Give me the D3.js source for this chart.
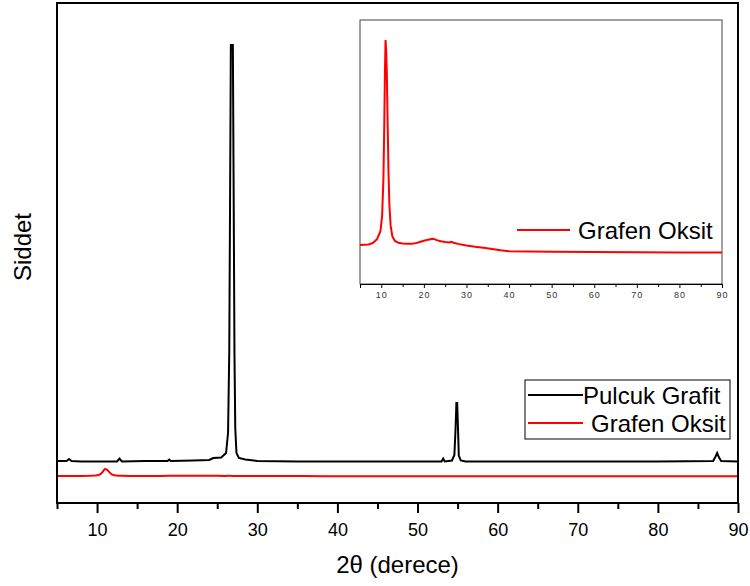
<!DOCTYPE html>
<html lang="tr">

<head>
    <meta charset="UTF-8">
    <title>XRD - Pulcuk Grafit / Grafen Oksit</title>
    <script src="https://cdn.jsdelivr.net/npm/d3@7"></script>
    <style>
        body { margin: 0; background: #fff; }
        svg { display: block; font-family: Arial, "Liberation Sans", sans-serif; }
    </style>
</head>

<body>
    <svg id="chart" width="750" height="586"></svg>

    <script>
        // Pulcuk Grafit (2θ, siddet)
        const grafitTheta = [5, 6.2, 6.5, 6.8, 8, 10, 12.5, 12.8, 13.1, 16, 18.8, 19, 19.2, 22, 24, 24.5, 25.5,
            26.1, 26.35, 26.5, 26.6, 26.7, 26.8, 26.95, 27.05, 27.15, 27.25, 27.4, 27.7, 28.5, 30, 35, 40, 45, 50,
            53, 53.2, 53.4, 54.3, 54.6, 54.75, 54.85, 54.95, 55.05, 55.15, 55.4, 56, 60, 70, 80,
            86.9, 87.2, 87.4, 87.6, 87.9, 90]
        const grafitInt = [8.4, 8.4, 8.8, 8.4, 8.3, 8.3, 8.3, 8.9, 8.3, 8.4, 8.4, 8.7, 8.4, 8.5, 8.6, 9.0, 9.1,
            10.0, 14, 30, 60, 91.6, 91.6, 91.6, 62, 30, 15, 10, 9.0, 8.7, 8.4, 8.3, 8.3, 8.3, 8.3,
            8.3, 8.9, 8.3, 8.5, 9.6, 15, 20, 20, 15, 9.5, 8.5, 8.3, 8.3, 8.3, 8.3,
            8.4, 9.3, 10, 9.2, 8.4, 8.3]

        // Grafen Oksit (2θ, siddet)
        const goTheta = [5, 6, 7, 8, 9, 9.8, 10.2, 10.5, 10.7, 10.85, 11.0, 11.15, 11.3, 11.5, 11.7, 11.9, 12.2,
            12.6, 13.2, 14, 15, 16, 17, 18, 19, 20, 21, 22, 22.5, 23, 24, 25, 26, 26.5, 27, 28, 30, 32, 34, 36, 38,
            40, 45, 50, 60, 70, 80, 90]
        const goInt = [14.8, 14.9, 15.0, 15.5, 17, 20, 26, 40, 60, 80, 92.4, 88, 80, 60, 42, 30, 22,
            18, 16.3, 15.6, 15.3, 15.2, 15.2, 15.4, 15.9, 16.4, 16.8, 17.1, 17.0, 16.6, 16.2, 15.9, 15.7, 16.0, 15.6, 15.2, 14.6, 14.1, 13.7, 13.3, 12.8,
            12.4, 12.3, 12.2, 12.1, 12.0, 11.9, 11.9]

        const xTicks = [10, 20, 30, 40, 50, 60, 70, 80, 90]
        const xMinorTicks = [5, 15, 25, 35, 45, 55, 65, 75, 85]
        const seriesNames = ["Pulcuk Grafit", "Grafen Oksit"]
        const seriesColors = ["#000000", "#ff0000"]

        const grafit = grafitTheta.map((t, i) => ({ x: t, y: grafitInt[i] }))
        const go = goTheta.map((t, i) => ({ x: t, y: goInt[i] }))

        const svg = d3.select('#chart')

        // main plot
        const x = d3.scaleLinear().domain([5, 90]).range([57, 738])
        const y = d3.scaleLinear().domain([0, 100]).range([503, 3])
        // GO trace is offset and shrunk under the graphite trace
        const yGo = d3.scaleLinear().domain([0, 100]).range([477.3, 468.3])

        svg.append('path')
            .datum(go)
            .attr('fill', 'none')
            .attr('stroke', seriesColors[1])
            .attr('stroke-width', 2)
            .attr('d', d3.line().x(d => x(d.x)).y(d => yGo(d.y)))

        svg.append('path')
            .datum(grafit)
            .attr('fill', 'none')
            .attr('stroke', seriesColors[0])
            .attr('stroke-width', 2)
            .attr('d', d3.line().x(d => x(d.x)).y(d => y(d.y)))

        // x axis: major + minor ticks
        const axisMajor = svg.append('g')
            .attr('transform', 'translate(0,503)')
            .call(d3.axisBottom(x).tickValues(xTicks).tickSize(10).tickPadding(10))
        axisMajor.select('.domain').remove()
        axisMajor.selectAll('line').attr('stroke-width', 2)
        axisMajor.selectAll('text').attr('font-size', 18).attr('fill', '#000').attr('font-family', null)

        const axisMinor = svg.append('g')
            .attr('transform', 'translate(0,503)')
            .call(d3.axisBottom(x).tickValues(xMinorTicks).tickSize(6).tickFormat(''))
        axisMinor.select('.domain').remove()
        axisMinor.selectAll('line').attr('stroke-width', 2)

        svg.append('rect')
            .attr('x', 57).attr('y', 3)
            .attr('width', 681).attr('height', 500)
            .attr('fill', 'none')
            .attr('stroke', '#000')
            .attr('stroke-width', 2)

        svg.append('text')
            .attr('x', (57 + 738) / 2)
            .attr('y', 573)
            .attr('text-anchor', 'middle')
            .attr('font-size', 24)
            .text('2θ (derece)')

        svg.append('text')
            .attr('transform', 'translate(31,247) rotate(-90)')
            .attr('text-anchor', 'middle')
            .attr('font-size', 24)
            .text('Siddet')

        // main legend
        const legend = svg.append('g')
        legend.append('rect')
            .attr('x', 525).attr('y', 380)
            .attr('width', 205).attr('height', 59)
            .attr('fill', '#fff')
            .attr('stroke', '#000')
            .attr('stroke-width', 1)
        const legendRows = [
            { name: seriesNames[0], color: seriesColors[0], ly: 395, tx: 583 },
            { name: seriesNames[1], color: seriesColors[1], ly: 423, tx: 591 },
        ]
        legendRows.forEach(r => {
            legend.append('line')
                .attr('x1', 528).attr('x2', 583)
                .attr('y1', r.ly).attr('y2', r.ly)
                .attr('stroke', r.color)
                .attr('stroke-width', 2)
            legend.append('text')
                .attr('x', r.tx).attr('y', r.ly + 8.5)
                .attr('font-size', 24)
                .text(r.name)
        })

        // inset (GO on its own scale)
        const xi = d3.scaleLinear().domain([5, 90]).range([360, 722])
        const yi = d3.scaleLinear().domain([0, 100]).range([284, 20])

        svg.append('rect')
            .attr('x', 360).attr('y', 20)
            .attr('width', 362).attr('height', 264)
            .attr('fill', '#fff')
            .attr('stroke', '#444')
            .attr('stroke-width', 1)

        svg.append('path')
            .datum(go)
            .attr('fill', 'none')
            .attr('stroke', seriesColors[1])
            .attr('stroke-width', 2)
            .attr('d', d3.line().x(d => xi(d.x)).y(d => yi(d.y)))

        const insetMajor = svg.append('g')
            .attr('transform', 'translate(0,284)')
            .call(d3.axisBottom(xi).tickValues(xTicks).tickSize(4).tickPadding(4))
        insetMajor.select('.domain').attr('stroke', '#000')
        insetMajor.selectAll('text')
            .attr('font-size', 9)
            .attr('letter-spacing', 1)
            .attr('fill', '#333')
            .attr('font-family', null)

        const insetMinor = svg.append('g')
            .attr('transform', 'translate(0,284)')
            .call(d3.axisBottom(xi).tickValues(xMinorTicks).tickSize(3).tickFormat(''))
        insetMinor.select('.domain').remove()

        svg.append('line')
            .attr('x1', 517).attr('x2', 570)
            .attr('y1', 230).attr('y2', 230)
            .attr('stroke', seriesColors[1])
            .attr('stroke-width', 2)
        svg.append('text')
            .attr('x', 578).attr('y', 238.5)
            .attr('font-size', 24)
            .text(seriesNames[1])
    </script>
</body>

</html>
